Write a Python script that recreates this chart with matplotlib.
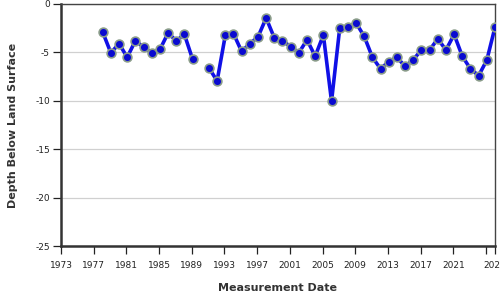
import numpy as np
import matplotlib
matplotlib.use("Agg")
import matplotlib.pyplot as plt

# Measurement years (early in each year) and depth below land surface
years = list(range(1978, 2027))
depths = [-2.9, -5.05, -4.1, -5.5, -3.8, -4.45, -5.05, -4.7, -3.0, -3.8,
          -3.15, -5.7, np.nan, -6.6, -7.95, -3.25, -3.05, -4.9, -4.1, -3.4,
          -1.45, -3.5, -3.8, -4.4, -5.05, -3.7, -5.4, -3.2, -10.05, -2.5,
          -2.4, -1.95, -3.35, -5.5, -6.7, -5.95, -5.5, -6.45, -5.75, -4.75,
          -4.75, -3.6, -4.75, -3.15, -5.4, -6.7, -7.4, -5.8, -2.4]
month_offset = 0.1
x_vals = [y + month_offset for y in years]

xtick_years = [1973, 1977, 1981, 1985, 1989, 1993, 1997, 2001, 2005, 2009,
               2013, 2017, 2021, 2025]
xtick_labels = [str(y) for y in xtick_years[:-1]] + [""]
end_label = "2026"
yticks = [0, -5, -10, -15, -20, -25]

fig = plt.figure(figsize=(5, 3), dpi=100)
ax = fig.add_axes([0.122, 0.18, 0.868, 0.8067])

ax.plot(x_vals, depths, color="#1010e6", lw=2.6, zorder=3,
        marker="o", ms=6.3, mfc="#0a0ad0", mec="#8a9c8a", mew=1.2)

xmax = x_vals[-1]
ax.set_xlim(1973, xmax)
ax.set_ylim(-25, 0)
ax.set_xticks(xtick_years + [xmax])
ax.set_xticklabels(xtick_labels + [end_label])
ax.set_yticks(yticks)
ax.set_yticklabels([str(v) for v in yticks])

ax.grid(axis="y", color="#d0d0d0", lw=0.9)
ax.set_axisbelow(True)
for side in ["left", "bottom"]:
    ax.spines[side].set_linewidth(1.8)
    ax.spines[side].set_color("#333333")
for side in ["top", "right"]:
    ax.spines[side].set_linewidth(1.0)
    ax.spines[side].set_color("#444444")

ax.tick_params(axis="both", labelsize=6.5, colors="#222222", length=6, width=0.9)
ax.tick_params(axis="x", pad=5)
ax.tick_params(axis="y", pad=2)
ax.set_xlabel("Measurement Date", fontsize=8, fontweight="bold", color="#333333",
              labelpad=9)
ax.set_ylabel("Depth Below Land Surface", fontsize=8, fontweight="bold",
              color="#333333", labelpad=12)

fig.savefig("out.png", dpi=100)
